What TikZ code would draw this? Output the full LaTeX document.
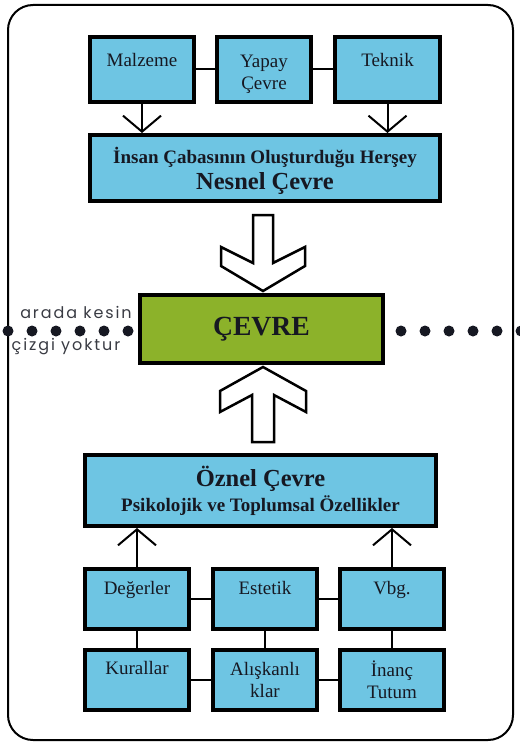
\documentclass[tikz,border=0pt]{standalone}
\usepackage{fontspec}
\setmainfont{Liberation Serif}
\newfontfamily\gothic[LetterSpace=12]{Poppins}
\usetikzlibrary{arrows.meta}
\definecolor{kutu}{RGB}{110,197,227}
\definecolor{yesil}{RGB}{140,178,42}
\definecolor{yazi}{RGB}{22,24,34}
\begin{document}
\begin{tikzpicture}[x=1pt,y=-1pt,
    kutu/.style={draw=black,fill=kutu,line width=4pt,align=center,text=yazi,
      font=\fontsize{19}{22}\selectfont,inner sep=0pt},
    kucuk/.style={kutu,minimum width=104pt,minimum height=60pt},
    bag/.style={line width=2pt},
    ok/.style={line width=2pt,-{Straight Barb[length=16pt,width=38pt]}},
    genis/.style={draw=black,line width=2.5pt,fill=white,line join=miter},
    nokta/.style={fill=yazi},
    yan/.style={font=\gothic\fontsize{16}{18}\selectfont,text=yazi!85,inner sep=0pt}]
  \useasboundingbox (0,0) rectangle (519,749);
  \draw[line width=2pt,rounded corners=25pt] (8,5) rectangle (513,740);
  % nesnel cevre
  \node[kutu,minimum width=104pt,minimum height=65pt] (malz) at (142,69.5) {Malzeme\\[-10pt]\strut};
  \node[kutu,minimum width=94pt,minimum height=65pt] (yapay) at (264,69.5) {\rule{0pt}{22pt}Yapay\\Çevre};
  \node[kutu,minimum width=105pt,minimum height=65pt] (tekn) at (387.5,69.5) {Teknik\\[-10pt]\strut};
  \node[kutu,minimum width=350pt,minimum height=66pt] (nesnel) at (265,168)
    {{\bfseries\rule{0pt}{22pt}İnsan Çabasının Oluşturduğu Herşey}\\[4pt]{\fontsize{24.5}{24}\selectfont\bfseries Nesnel Çevre}};
  % orta
  \node[kutu,fill=yesil,minimum width=243pt,minimum height=68pt,
    font=\fontsize{27.7}{30}\selectfont\bfseries] (cevre) at (261.5,329) {ÇEVRE};
  \node[yan] (ust) at (76,312) {arada kesin};
  \node[yan] (alt) at (66,347) {çizgi yoktur};
  % oznel cevre
  \node[kutu,minimum width=351pt,minimum height=71pt] (oznel) at (260.5,490.5)
    {{\fontsize{24.5}{24}\selectfont\bfseries\rule{0pt}{22pt}Öznel Çevre}\\[3pt]{\bfseries Psikolojik ve Toplumsal Özellikler}};
  \node[kucuk] (deg) at (137,598.5) {Değerler\\[-8pt]\strut};
  \node[kucuk] (est) at (265,598.5) {Estetik\\[-8pt]\strut};
  \node[kucuk] (vbg) at (392,598.5) {Vbg.\\[-8pt]\strut};
  \node[kucuk] (kur) at (137,679.5) {Kurallar\\[-6pt]\strut};
  \node[kucuk] (alis) at (265,679.5) {Alışkanlı\\klar};
  \node[kucuk] (inanc) at (392,679.5) {İnanç\\Tutum};

  \draw[bag] (malz) -- (yapay);
  \draw[bag] (yapay) -- (tekn);
  \draw[ok] (malz.south) -- (malz.south |- nesnel.north);
  \draw[ok] (tekn.south) -- (tekn.south |- nesnel.north);
  \draw[bag] (deg) -- (est);
  \draw[bag] (est) -- (vbg);
  \draw[bag] (kur) -- (alis);
  \draw[bag] (alis) -- (inanc);
  \draw[bag] (deg) -- (kur);
  \draw[bag] (est) -- (alis);
  \draw[bag] (vbg) -- (inanc);
  \draw[ok] (deg.north) -- (deg.north |- oznel.south);
  \draw[ok] (vbg.north) -- (vbg.north |- oznel.south);

  % kalin oklar
  \draw[genis] (253,215) -- (273,215) -- (273,263) -- (305,247) -- (305,266)
    -- (263,291) -- (221,266) -- (221,247) -- (253,263) -- cycle;
  \draw[genis] (263,367) -- (306,391) -- (306,412) -- (274,395) -- (274,442)
    -- (252,442) -- (252,395) -- (220,412) -- (220,391) -- cycle;

  % noktalar
  \foreach \x in {8,32,...,128}
    \fill[nokta] (\x,331) circle (5.5pt);
  \foreach \x in {401,425,...,521}
    \fill[nokta] (\x,331) circle (5.5pt);
\end{tikzpicture}
\end{document}
